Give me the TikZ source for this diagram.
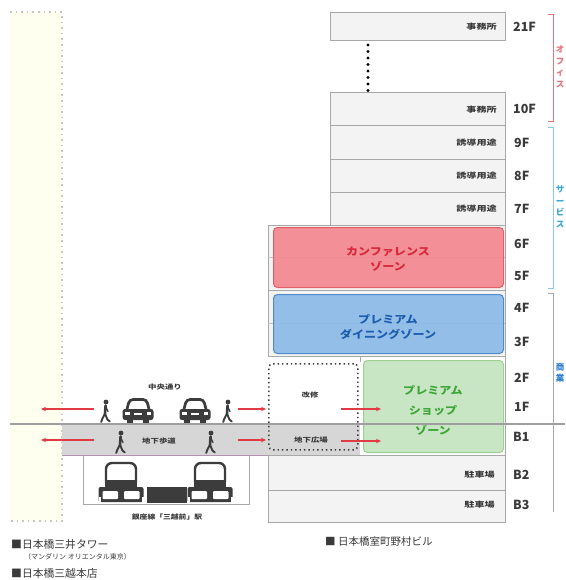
\documentclass[tikz,border=0pt]{standalone}
\usepackage{fontspec}
\setmainfont{Noto Sans CJK JP}
\usetikzlibrary{arrows.meta}

\definecolor{lineg}{HTML}{A8A8A8}
\definecolor{floorg}{HTML}{F3F3F3}
\definecolor{darkt}{HTML}{3A3A3A}
\definecolor{ink}{HTML}{3C3C3C}
\definecolor{confFill}{HTML}{F38890}
\definecolor{confDraw}{HTML}{E35D67}
\definecolor{confText}{HTML}{D8283A}
\definecolor{dineFill}{HTML}{8BBAE6}
\definecolor{dineDraw}{HTML}{4F8BCB}
\definecolor{dineText}{HTML}{1C5DAF}
\definecolor{shopFill}{HTML}{C8E6C3}
\definecolor{shopDraw}{HTML}{9ECF92}
\definecolor{shopText}{HTML}{3EA537}
\definecolor{arrowred}{HTML}{E23A44}
\definecolor{bandg}{HTML}{D6D6D6}
\definecolor{paleyel}{HTML}{FFFFF0}
\definecolor{officeRed}{HTML}{E8737B}
\definecolor{serviceCyan}{HTML}{8CCBE8}
\definecolor{serviceText}{HTML}{3AA6D8}
\definecolor{shopBlue}{HTML}{2C7FD0}

\newcommand\stretchtxt[2]{\scalebox{#1}[1]{#2}}

\begin{document}
\begin{tikzpicture}[x=1pt,y=-1pt,
  floorbox/.style={draw=lineg, fill=floorg, line width=0.9pt, inner sep=0, anchor=north west},
  flabel/.style={font=\fontsize{12.5}{12.5}\selectfont\bfseries, text=darkt, anchor=west, inner sep=0},
  usage/.style={font=\fontsize{7.5}{7.5}\selectfont\bfseries, text=darkt, anchor=east, inner sep=0},
  tinytxt/.style={font=\fontsize{6.5}{6.5}\selectfont\bfseries, text=darkt, inner sep=0},
  zonebox/.style={line width=1pt, rounded corners=4pt, inner sep=0, anchor=north west},
  zonetxt/.style={font=\fontsize{10.5}{15}\selectfont\bfseries, align=center, inner sep=0},
  legend/.style={font=\fontsize{10.8}{10.8}\selectfont, text=darkt, anchor=west, inner sep=0},
  sidetxt/.style={font=\fontsize{8.5}{11.5}\selectfont\bfseries, align=center, inner sep=0},
  redarrow/.style={draw=arrowred, line width=1.2pt, -{Stealth[length=5pt,width=4.5pt]}},
  bracket/.style={line width=0.8pt},
  walker/.pic={
    \fill[ink] (1,-20) circle (2.4);
    \draw[ink, line width=2.6pt, line cap=round] (0.6,-16.5) -- (0,-8.5);
    \draw[ink, line width=1.9pt, line cap=round] (0,-8.5) -- (-2.8,-3) -- (-3.8,0);
    \draw[ink, line width=1.9pt, line cap=round] (0,-8.5) -- (2.4,-2.5) -- (4.8,-0.6);
    \draw[ink, line width=1.3pt, line cap=round] (0.9,-15) -- (3,-10.5);
  },
  car/.pic={
    \fill[ink] (-11,-4) rectangle (-5,0);
    \fill[ink] (5,-4) rectangle (11,0);
    \draw[ink, line width=2.7pt, fill=white, rounded corners=3.5pt]
      (-11.5,-12) -- (-8.5,-23.5) -- (8.5,-23.5) -- (11.5,-12);
    \fill[ink, rounded corners=2.5pt] (-15.5,-3) rectangle (15.5,-14);
    \fill[white] (-13,-11) rectangle (-8.5,-8.5);
    \fill[white] (8.5,-11) rectangle (13,-8.5);
    \fill[white] (-4,-10) rectangle (4,-8);
  },
  train/.pic={
    \draw[ink, line width=2.4pt, fill=white, rounded corners=6pt] (-15,-16) rectangle (15,-40);
    \fill[ink] (-16.2,-23) rectangle (16.2,-15);
    \fill[ink, rounded corners=2pt] (-22.5,-16) rectangle (22.5,-1);
    \fill[white, rounded corners=1pt] (-18.5,-12) rectangle (-3,-4);
    \fill[white, rounded corners=1pt] (3,-12) rectangle (18.5,-4);
    \fill[white] (-22.5,-6) rectangle (-20.5,-1);
    \fill[white] (20.5,-6) rectangle (22.5,-1);
  }
]
\useasboundingbox (0,0) rectangle (565,580);
\fill[white] (0,0) rectangle (565,580);

% neighbouring tower site on the left
\fill[paleyel] (10,12) rectangle (62,521);
\draw[gray!45, line width=1.6pt, dash pattern=on 1.6pt off 4pt] (10,12) -- (62,12) -- (62,521) -- (10,521);

% underground walkway band
\fill[bandg] (62,424) rectangle (360,455);
\draw[gray!60!violet!60, line width=1pt] (62,455) -- (268,455);

% ---------------- upper office tower ----------------
\node[floorbox, minimum width=175pt, minimum height=28pt] (f21) at (330,12) {};
\node[floorbox, minimum width=175pt, minimum height=33pt] (f10) at (330,92) {};
\node[floorbox, minimum width=175pt, minimum height=34pt] (f9) at (330,125) {};
\node[floorbox, minimum width=175pt, minimum height=33pt] (f8) at (330,159) {};
\node[floorbox, minimum width=175pt, minimum height=33pt] (f7) at (330,192) {};

\foreach \i/\yy in {1/45,2/51.5,3/58,4/64.5,5/71,6/77.5,7/84,8/90.5}
  \fill[black] (368,\yy) circle (1.7);

\node[usage] (u21) at (497,27) {\stretchtxt{1.35}{事務所}};
\node[usage] (u10) at (497,110) {\stretchtxt{1.35}{事務所}};
\node[usage] (u9) at (497,143) {\stretchtxt{1.35}{誘導用途}};
\node[usage] (u8) at (497,176) {\stretchtxt{1.35}{誘導用途}};
\node[usage] (u7) at (497,209) {\stretchtxt{1.35}{誘導用途}};

% ---------------- lower podium ----------------
\node[floorbox, minimum width=237pt, minimum height=65pt] (p65) at (268,225) {};
\node[floorbox, minimum width=237pt, minimum height=66pt] (p43) at (268,290) {};
\fill[white] (268,356) rectangle (505,424);
\fill[bandg] (268,424) rectangle (360,455);
\draw[lineg, line width=0.9pt] (268,356) -- (505,356) -- (505,455);
\draw[lineg, line width=0.9pt] (360,356) -- (360,362);
\node[floorbox, minimum width=237pt, minimum height=35pt] (pb2) at (268,455) {};
\node[floorbox, minimum width=237pt, minimum height=32pt] (pb3) at (268,490) {};
\draw[lineg!70, line width=0.6pt] (268,257) -- (505,257);
\draw[lineg!70, line width=0.6pt] (268,323) -- (505,323);

% zones
\node[zonebox, draw=confDraw, fill=confFill, fill opacity=0.92, minimum width=230pt, minimum height=60pt] (conf) at (273,227) {};
\node[zonetxt, text=confText] (conft) at (388,259) {\stretchtxt{1.15}{カンファレンス}\\\stretchtxt{1.15}{ゾーン}};
\node[zonebox, draw=dineDraw, fill=dineFill, fill opacity=0.92, minimum width=230pt, minimum height=59pt] (dine) at (273,294) {};
\node[zonetxt, text=dineText] (dinet) at (388,327) {\stretchtxt{1.15}{プレミアム}\\\stretchtxt{1.15}{ダイニングゾーン}};
\node[zonebox, draw=shopDraw, fill=shopFill, minimum width=140pt, minimum height=92pt] (shop) at (363,360) {};
\node[zonetxt, text=shopText, font=\fontsize{10.5}{20}\selectfont\bfseries] (shopt) at (433,410) {\stretchtxt{1.15}{プレミアム}\\\stretchtxt{1.15}{ショップ}\\\stretchtxt{1.15}{ゾーン}};

% renovated area
\node[draw=ink, line width=1.6pt, dash pattern=on 1.4pt off 3pt, rounded corners=4pt,
      minimum width=89pt, minimum height=86pt, inner sep=0, anchor=north west] (reno) at (268,363) {};
\node[tinytxt] (renot) at (310,395) {\stretchtxt{1.3}{改修}};
\node[tinytxt] (plaza) at (311,440) {\stretchtxt{1.3}{地下広場}};

\node[usage] (ub2) at (495,475) {\stretchtxt{1.35}{駐車場}};
\node[usage] (ub3) at (495,505) {\stretchtxt{1.35}{駐車場}};

% floor numbers
\node[flabel] (l21) at (513,27) {21F};
\node[flabel] (l10) at (513,109) {10F};
\node[flabel] (l9) at (514,143) {9F};
\node[flabel] (l8) at (514,176) {8F};
\node[flabel] (l7) at (514,209) {7F};
\node[flabel] (l6) at (514,244) {6F};
\node[flabel] (l5) at (514,276) {5F};
\node[flabel] (l4) at (514,308) {4F};
\node[flabel] (l3) at (514,342) {3F};
\node[flabel] (l2) at (514,378) {2F};
\node[flabel] (l1) at (514,407) {1F};
\node[flabel] (lb1) at (513,437) {B1};
\node[flabel] (lb2) at (513,475) {B2};
\node[flabel] (lb3) at (513,505) {B3};

% use brackets
\draw[bracket, officeRed] (548,14) -- (553,14) -- (553,121) -- (548,121);
\draw[bracket, serviceCyan] (548,127) -- (553,127) -- (553,288) -- (548,288);
\draw[bracket, lineg] (548,293) -- (553,293) -- (553,512);
\node[sidetxt, text=officeRed] (office) at (560,67) {オ\\フ\\ィ\\ス};
\node[sidetxt, text=serviceText] (service) at (560,207) {サ\\ー\\ビ\\ス};
\node[sidetxt, text=shopBlue] (retail) at (560,373) {商\\業};

% ground level
\draw[gray!75, line width=1.8pt] (10,424) -- (565,424);

% street
\node[tinytxt] (avenue) at (165,387) {\stretchtxt{1.3}{中央通り}};
\pic at (105,422) {walker};
\pic at (138,423) {car};
\pic at (195,423) {car};
\pic at (227,422) {walker};
\node[tinytxt] (walkway) at (159,441) {\stretchtxt{1.3}{地下歩道}};
\pic at (120,453) {walker};
\pic at (210,453) {walker};

% pedestrian flows
\coordinate (a1s) at (94,409);  \coordinate (a1e) at (41,409);
\coordinate (a2s) at (238,409); \coordinate (a2e) at (266,409);
\coordinate (a3s) at (94,440);  \coordinate (a3e) at (41,440);
\coordinate (a4s) at (238,440); \coordinate (a4e) at (266,440);
\coordinate (a5s) at (341,409); \coordinate (a5e) at (381,409);
\coordinate (a6s) at (341,441); \coordinate (a6e) at (381,441);
\draw[redarrow] (a1s) -- (a1e);
\draw[redarrow] (a2s) -- (a2e);
\draw[redarrow] (a3s) -- (a3e);
\draw[redarrow] (a4s) -- (a4e);
\draw[redarrow] (a5s) -- (a5e);
\draw[redarrow] (a6s) -- (a6e);

% subway station
\draw[lineg, line width=0.9pt] (83,456) -- (83,504) -- (249,504) -- (249,456);
\pic at (121,503) {train};
\pic at (210,503) {train};
\fill[ink] (147,487) rectangle (187,503);
\node[tinytxt] (station) at (167,517) {\stretchtxt{1.2}{銀座線「三越前」駅}};

% building names
\node[legend] (mitsui) at (11,544) {■日本橋三井タワー};
\node[legend, font=\fontsize{7}{7}\selectfont] (mandarin) at (24,557) {（マンダリン オリエンタル東京）};
\node[legend] (mitsukoshi) at (11,573) {■日本橋三越本店};
\node[legend, font=\fontsize{10.5}{10.5}\selectfont] (nomura) at (325,542) {■ 日本橋室町野村ビル};
\end{tikzpicture}
\end{document}
